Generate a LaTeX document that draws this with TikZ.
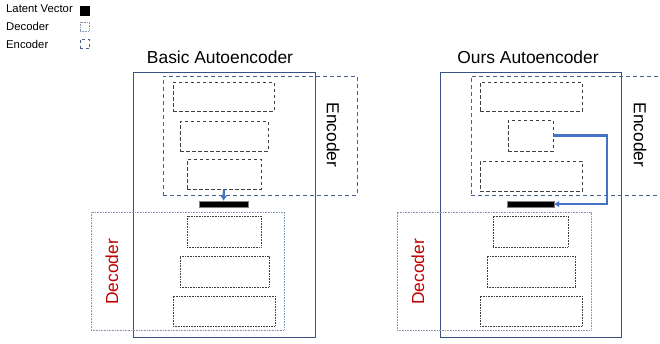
\documentclass[tikz,border=0pt]{standalone}
\usepackage{fontspec}
\setmainfont{Liberation Sans}
\usetikzlibrary{positioning, arrows.meta}

\definecolor{frameblue}{HTML}{3A5283}
\definecolor{encblue}{HTML}{4A5F8A}
\definecolor{decblue}{HTML}{8497B0}
\definecolor{boxgray}{HTML}{404040}
\definecolor{arrowblue}{HTML}{4472C4}
\definecolor{labelred}{HTML}{C00000}

\begin{document}
\begin{tikzpicture}[x=1pt, y=-1pt,
    frame/.style={rectangle, draw=frameblue, line width=1pt, inner sep=0pt},
    encgroup/.style={rectangle, draw=encblue, line width=0.9pt, dash pattern=on 4pt off 3pt, inner sep=0pt},
    decgroup/.style={rectangle, draw=decblue, line width=1pt, dash pattern=on 0.8pt off 0.8pt, inner sep=0pt},
    enclayer/.style={rectangle, draw=boxgray, line width=0.8pt, dash pattern=on 3.5pt off 2.5pt, inner sep=0pt},
    declayer/.style={rectangle, draw=boxgray, line width=0.8pt, dash pattern=on 0.8pt off 0.8pt, inner sep=0pt},
    latent/.style={rectangle, fill=black, draw=gray, line width=0.4pt, inner sep=0pt, minimum height=6},
    title/.style={font=\fontsize{17.4}{20}\selectfont},
    grouplabel/.style={font=\fontsize{17.4}{20}\selectfont},
    legend/.style={font=\fontsize{11.3}{13}\selectfont, anchor=west, inner sep=0pt},
    arrow/.style={-{Latex[length=5pt, width=7pt]}, draw=arrowblue, line width=2.2pt}
]
    \clip (0,0) rectangle (660,343);

    % === Legend ===
    \node[legend] (legLat) at (6,9) {Latent Vector};
    \node[rectangle, fill=black, minimum size=10, inner sep=0pt] (legLatBox) at (84.5,10.5) {};
    \node[legend] (legDec) at (6,26) {Decoder};
    \node[declayer, draw=decblue, minimum size=9] (legDecBox) at (84.5,26.5) {};
    \node[legend] (legEnc) at (6,44) {Encoder};
    \node[encgroup, dash pattern=on 3pt off 2.5pt, minimum size=9] (legEncBox) at (84.5,44) {};

    % === Basic Autoencoder ===
    \node[title] (titleA) at (220,57) {Basic Autoencoder};
    \node[frame, minimum width=182, minimum height=265] (outerA) at (224,204.5) {};
    \node[encgroup, minimum width=194, minimum height=119] (encboxA) at (260,135.5) {};
    \node[decgroup, minimum width=193, minimum height=118] (decboxA) at (187.5,271) {};

    \node[enclayer, minimum width=101, minimum height=29] (encA1) at (223.5,96.5) {};
    \node[enclayer, minimum width=88, minimum height=30] (encA2) at (224,136) {};
    \node[enclayer, minimum width=74, minimum height=30] (encA3) at (224,174) {};
    \node[latent, minimum width=49] (latA) at (223.5,204) {};
    \node[declayer, minimum width=74, minimum height=31] (decA1) at (224,231.5) {};
    \node[declayer, minimum width=89, minimum height=31] (decA2) at (224.5,271.5) {};
    \node[declayer, minimum width=102, minimum height=30] (decA3) at (224,311) {};

    \draw[arrow] (encA3.south) -- (latA.north);

    \node[grouplabel, rotate=-90] (encLabA) at (333,135) {Encoder};
    \node[grouplabel, rotate=90, text=labelred] (decLabA) at (112,272) {Decoder};

    % === Ours Autoencoder ===
    \node[title] (titleB) at (528,57) {Ours Autoencoder};
    \node[frame, minimum width=181, minimum height=265] (outerB) at (530.5,204.5) {};
    \node[encgroup, minimum width=209, minimum height=119] (encboxB) at (575.5,135.5) {};
    \node[decgroup, minimum width=194, minimum height=118] (decboxB) at (494,271) {};

    \node[enclayer, minimum width=102, minimum height=29] (encB1) at (531,96.5) {};
    \node[enclayer, minimum width=45, minimum height=31] (encB2) at (530.5,135.5) {};
    \node[enclayer, minimum width=102, minimum height=30] (encB3) at (531,176) {};
    \node[latent, minimum width=47] (latB) at (530.5,204) {};
    \node[declayer, minimum width=75, minimum height=31] (decB1) at (530.5,231.5) {};
    \node[declayer, minimum width=88, minimum height=31] (decB2) at (531,271.5) {};
    \node[declayer, minimum width=102, minimum height=30] (decB3) at (531,311) {};

    \coordinate (turnB) at (607,135.5);
    \draw[arrow] (encB2.east) -- (turnB) |- (latB.east);

    \node[grouplabel, rotate=-90] (encLabB) at (640,135) {Encoder};
    \node[grouplabel, rotate=90, text=labelred] (decLabB) at (418,272) {Decoder};

\end{tikzpicture}
\end{document}
